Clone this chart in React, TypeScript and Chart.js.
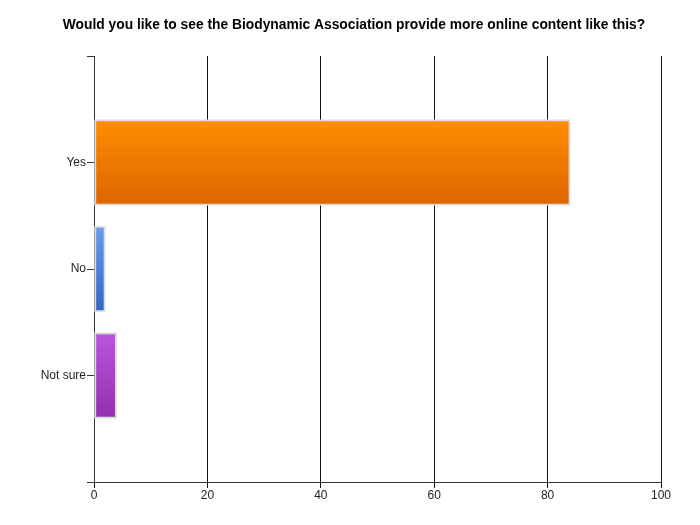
import React, { useEffect, useRef } from 'react';
import { Chart, registerables } from 'chart.js';

Chart.register(...registerables);

// blank entries at both ends give the empty slot above "Yes" and below "Not sure"
const categories = ['', 'Yes', 'No', 'Not sure', ''];
const responses = [null, 84, 2, 4, null];
const xTicks = [0, 20, 40, 60, 80, 100];

const topColors = ['#ff8c00', '#ff8c00', '#6a9cf0', '#bb55dd', '#bb55dd'];
const bottomColors = ['#dd6600', '#dd6600', '#3366cc', '#9230b0', '#9230b0'];

const TITLE = 'Would you like to see the Biodynamic Association provide more online content like this?';
const FONT = 'Arial, "Liberation Sans", sans-serif';

// title drawn over the full canvas width (the built-in one centres on the padded box)
const titlePlugin = {
  id: 'pageTitle',
  afterDraw(chart: any) {
    const ctx = chart.ctx;
    ctx.save();
    ctx.font = `bold 13.8px ${FONT}`;
    ctx.fillStyle = '#000';
    ctx.textAlign = 'center';
    ctx.textBaseline = 'middle';
    ctx.fillText(TITLE, chart.width / 2 + 4, 25);
    ctx.restore();
  },
};

export default function App() {
  const canvasRef = useRef<HTMLCanvasElement | null>(null);

  useEffect(() => {
    document.body.style.margin = '0';
    if (!canvasRef.current) return;

    const barFill = (ctx: any) => {
      const i = ctx.dataIndex;
      const chart = ctx.chart;
      const yScale = chart.scales?.y;
      if (!yScale || !chart.chartArea) return bottomColors[i];
      const c = yScale.getPixelForValue(i);
      const g = chart.ctx.createLinearGradient(0, c - 42, 0, c + 42);
      g.addColorStop(0, topColors[i]);
      g.addColorStop(1, bottomColors[i]);
      return g;
    };

    const chart = new Chart(canvasRef.current, {
      type: 'bar',
      data: {
        labels: categories,
        datasets: [
          {
            data: responses,
            backgroundColor: barFill,
            borderColor: '#dddddd',
            borderWidth: 2,
            borderSkipped: false,
            barThickness: 86,
          },
        ],
      },
      options: {
        indexAxis: 'y',
        animation: false,
        responsive: true,
        maintainAspectRatio: false,
        layout: { padding: { top: 56, left: 0, right: 39, bottom: 0 } },
        plugins: {
          legend: { display: false },
          tooltip: { enabled: false },
          title: { display: false },
        },
        scales: {
          x: {
            type: 'linear',
            position: 'bottom',
            min: 0,
            max: 100,
            afterBuildTicks: (scale: any) => {
              scale.ticks = xTicks.map((v) => ({ value: v }));
            },
            afterFit: (scale: any) => {
              scale.height = 43;
            },
            grid: {
              color: '#111',
              lineWidth: 1,
              drawOnChartArea: true,
              drawTicks: true,
              tickLength: 6,
            },
            border: { display: true, color: '#333', width: 1 },
            ticks: {
              color: '#222',
              padding: 0,
              font: { family: FONT, size: 12 },
            },
          },
          y: {
            type: 'category',
            offset: false,
            afterFit: (scale: any) => {
              scale.width = 94;
            },
            grid: {
              offset: false,
              drawOnChartArea: false,
              drawTicks: true,
              tickLength: 7,
              color: '#333',
            },
            border: { display: true, color: '#333', width: 1 },
            ticks: {
              autoSkip: false,
              color: '#222',
              padding: 1,
              font: { family: FONT, size: 12 },
            },
          },
        },
      },
      plugins: [titlePlugin],
    } as any);

    return () => {
      chart.destroy();
    };
  }, []);

  return (
    <div style={{ width: '700px', height: '525px', position: 'relative', background: '#fff' }}>
      <canvas ref={canvasRef}></canvas>
    </div>
  );
}
